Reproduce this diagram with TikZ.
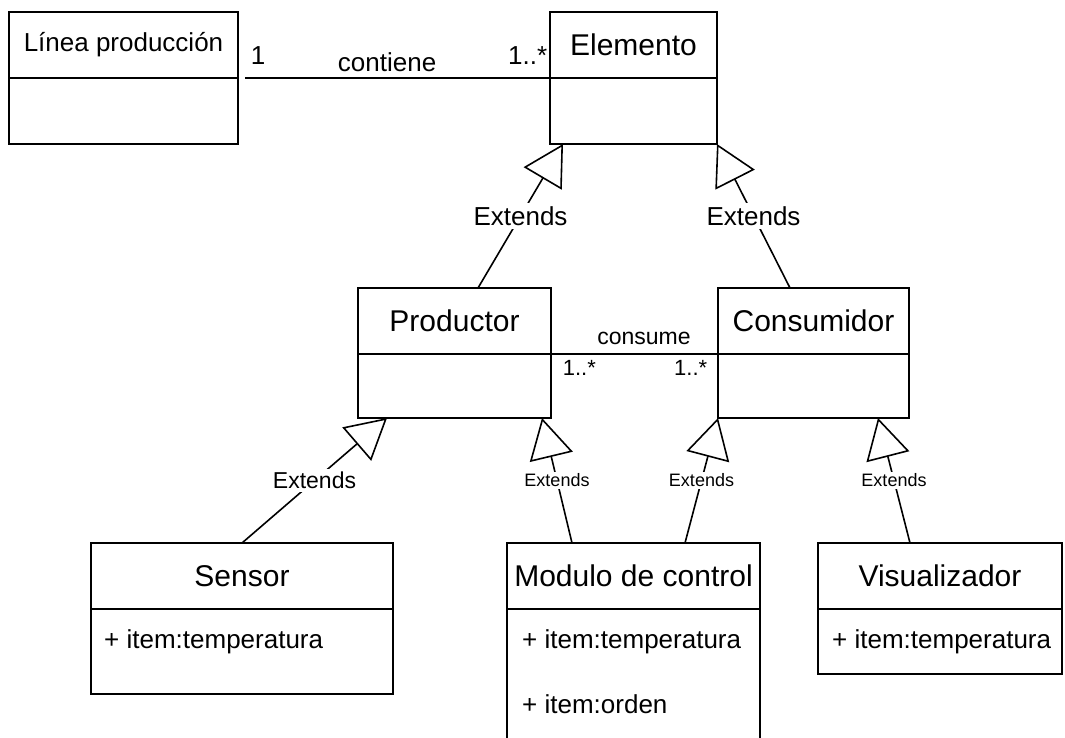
\documentclass[tikz,border=0pt]{standalone}
\usepackage{fontspec}
\setmainfont{Liberation Sans}
\usepackage{tikz}
\usetikzlibrary{arrows.meta,positioning}
\tikzset{
    umlhead/.style={draw, line width=1.6pt, outer sep=0pt, inner xsep=2pt, minimum height=66pt, font=\fontsize{30}{36}\selectfont},
    umlbody/.style={draw, line width=1.6pt, outer sep=0pt},
    umlattr/.style={anchor=base west, inner sep=0pt, font=\fontsize{26}{31}\selectfont},
    umlassoc/.style={line width=1.6pt},
    umlmult/.style={inner sep=0pt, font=\fontsize{26}{31}\selectfont},
    umlmultsmall/.style={inner sep=0pt, font=\fontsize{22}{27}\selectfont},
    umlextends/.style={line width=1.6pt, -{Triangle[open, length=40pt, width=44pt]}},
    umlnote/.style={fill=white, inner sep=3pt, font=\fontsize{26}{31}\selectfont},
    umlnotesmall/.style={fill=white, inner sep=2pt, font=\fontsize{18}{22}\selectfont}
}
\begin{document}
\begin{tikzpicture}[x=1pt, y=-1pt]
        \fill[white] (0,0) rectangle (1065,738);
        \useasboundingbox (0,0) rectangle (1065,738);
        \clip (0,0) rectangle (1065,738);

        \node[umlhead, minimum width=229pt, font=\fontsize{26}{31}\selectfont] (linea) at (123.5,45) {Línea producción};
        \node[umlbody, minimum width=229pt, minimum height=66pt, below=0pt of linea] (lineab) {};
        \node[umlhead, minimum width=167pt] (elemento) at (633.5,45) {Elemento};
        \node[umlbody, minimum width=167pt, minimum height=66pt, below=0pt of elemento] (elementob) {};

        \node[umlhead, minimum width=193pt] (productor) at (454.5,321) {Productor};
        \node[umlbody, minimum width=193pt, minimum height=64pt, below=0pt of productor] (productorb) {};
        \node[umlhead, minimum width=191pt] (consumidor) at (813.5,321) {Consumidor};
        \node[umlbody, minimum width=191pt, minimum height=64pt, below=0pt of consumidor] (consumidorb) {};

        \node[umlhead, minimum width=302pt] (sensor) at (242,576) {Sensor};
        \node[umlbody, minimum width=302pt, minimum height=85pt, below=0pt of sensor] (sensorb) {};
        \node[umlhead, minimum width=253pt] (modulo) at (633.5,576) {Modulo de control};
        \node[umlbody, minimum width=253pt, minimum height=131pt, below=0pt of modulo] (modulob) {};
        \node[umlhead, minimum width=244pt] (visualizador) at (940,576) {Visualizador};
        \node[umlbody, minimum width=244pt, minimum height=65pt, below=0pt of visualizador] (visualizadorb) {};

        \node[umlattr] (sensorattr) at ([xshift=13pt, yshift=-39pt]sensorb.north west) {+ item:temperatura};
        \node[umlattr] (moduloattra) at ([xshift=15pt, yshift=-39pt]modulob.north west) {+ item:temperatura};
        \node[umlattr] (moduloattrb) at ([xshift=15pt, yshift=-104pt]modulob.north west) {+ item:orden};
        \node[umlattr] (visualattr) at ([xshift=14pt, yshift=-39pt]visualizadorb.north west) {+ item:temperatura};

        \draw[umlassoc] ([xshift=7pt]linea.south east) -- node[umlmult, pos=0, anchor=base west, xshift=5pt, yshift=13pt] {1} node[umlmult, pos=0.466, anchor=base, yshift=6pt] {contiene} node[umlmult, pos=1, anchor=base east, xshift=-2pt, yshift=13pt] {1..*} (elemento.south west);
        \draw[umlassoc] (productor.south east) -- node[umlmultsmall, pos=0.557, anchor=base, yshift=10pt, font=\fontsize{23}{28}\selectfont] {consume} node[umlmultsmall, pos=0, anchor=base west, xshift=11pt, yshift=-21pt] {1..*} node[umlmultsmall, pos=1, anchor=base east, xshift=-10pt, yshift=-21pt] {1..*} (consumidor.south west);

        \draw[umlextends] ([xshift=23.5pt]productor.north) -- node[umlnote] {Extends} ([xshift=13pt]elementob.south west);
        \draw[umlextends] ([xshift=-23.5pt]consumidor.north) -- node[umlnote] {Extends} (elementob.south east);
        \draw[umlextends] (sensor.north) -- node[umlnote, font=\fontsize{23}{28}\selectfont] {Extends} ([xshift=29pt]productorb.south west);
        \draw[umlextends] ([xshift=-61.5pt]modulo.north) -- node[umlnotesmall] {Extends} ([xshift=-9pt]productorb.south east);
        \draw[umlextends] ([xshift=51.5pt]modulo.north) -- node[umlnotesmall] {Extends} (consumidorb.south west);
        \draw[umlextends] ([xshift=-30pt]visualizador.north) -- node[umlnotesmall] {Extends} ([xshift=-31pt]consumidorb.south east);
    \end{tikzpicture}
\end{document}
